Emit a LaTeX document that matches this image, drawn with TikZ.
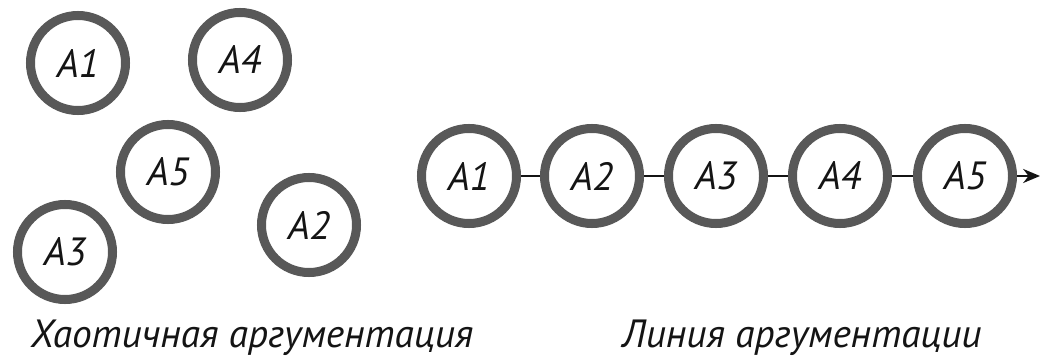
\documentclass[tikz,border=0pt]{standalone}
\usepackage{fontspec}
\setmainfont{PT Sans}
\usepackage{tikz}
\usetikzlibrary{arrows.meta}
\definecolor{myring}{RGB}{88,88,88}
\definecolor{mydark}{RGB}{20,20,20}
\tikzset{
  argnode/.style={circle, draw=myring, fill=white, line width=6.4pt,
    minimum size=2.375cm, inner sep=0pt, text=mydark,
    font=\itshape\fontsize{28}{30}\selectfont},
  link/.style={line width=1.4pt, color=mydark},
  arrow/.style={-{Stealth[length=12pt, width=10pt]}, line width=1.6pt, color=mydark},
  caption/.style={anchor=base, text=mydark,
    font=\itshape\fontsize{28}{30}\selectfont}
}

\begin{document}
\begin{tikzpicture}[x=0.025cm, y=-0.025cm]
  \useasboundingbox (0,0) rectangle (1041,361);

  \node[argnode] (ca1) at (78,  63)  {A1};
  \node[argnode] (ca4) at (240, 60)  {A4};
  \node[argnode] (ca5) at (168, 172) {A5};
  \node[argnode] (ca2) at (309, 225) {A2};
  \node[argnode] (ca3) at (65,  252) {A3};

  \node[argnode] (la1) at (469, 176) {A1};
  \node[argnode] (la2) at (592, 176) {A2};
  \node[argnode] (la3) at (716, 176) {A3};
  \node[argnode] (la4) at (840, 176) {A4};
  \node[argnode] (la5) at (965, 176) {A5};
  \coordinate (lend) at (1040, 176);

  \draw[link] (la1) -- (la2);
  \draw[link] (la2) -- (la3);
  \draw[link] (la3) -- (la4);
  \draw[link] (la4) -- (la5);
  \draw[arrow] (la5) -- (lend);

  \node[caption] (chaos) at (252, 347) {Хаотичная аргументация};
  \node[caption] (line)  at (802, 347) {Линия аргументации};
\end{tikzpicture}
\end{document}
